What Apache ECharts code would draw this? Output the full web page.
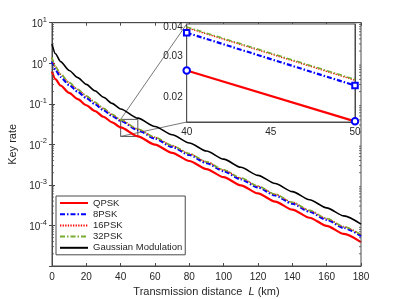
<!DOCTYPE html>
<html><head><meta charset="utf-8">
<script src="https://cdn.jsdelivr.net/npm/echarts@6/dist/echarts.min.js"></script>
<style>html,body{margin:0;padding:0;background:#fff}#c{width:399px;height:299px}</style>
</head><body><div id="c"></div>
<script>
const distance = [0,2,5,10,15,20,25,30,35,40,50,60,70,80,90,100,110,120,130,140,150,160,170,180];
const qpsk = [0.619,0.405,0.283,0.185,0.130,0.0922,0.0665,0.0479,0.0350,0.0261,0.0158,0.00984,0.00617,0.00389,0.00246,0.00155,0.000977,0.000617,0.000389,0.000246,0.000155,0.0000977,0.0000617,0.0000389];
const psk8 = [1.109,0.684,0.460,0.291,0.199,0.139,0.0985,0.0698,0.0503,0.0379,0.0225,0.01385,0.00867,0.00547,0.00345,0.00218,0.00137,0.000867,0.000547,0.000345,0.000218,0.000137,0.0000867,0.0000547];
const psk16 = [1.366,0.815,0.535,0.332,0.225,0.155,0.109,0.0763,0.0545,0.0398,0.0237,0.01483,0.00928,0.00586,0.00370,0.00233,0.00147,0.000928,0.000586,0.000370,0.000233,0.000147,0.0000928,0.0000586];
const psk32 = [1.380,0.824,0.541,0.335,0.227,0.157,0.110,0.0771,0.0551,0.0401,0.0239,0.01498,0.00938,0.00592,0.00373,0.00236,0.00149,0.000938,0.000592,0.000373,0.000236,0.000149,0.0000938,0.0000592];
const gaussian = [2.985,1.712,1.094,0.663,0.442,0.301,0.209,0.145,0.1025,0.0746,0.0444,0.0275,0.01718,0.01084,0.00684,0.00432,0.00272,0.00172,0.00108,0.000684,0.000432,0.000272,0.000172,0.000108];
const seriesNames = ['QPSK','8PSK','16PSK','32PSK','Gaussian Modulation'];
const insetRange = [40, 50];
const insetYMin = 0.0157, insetYMax = 0.0413;
const insetYTicks = [0.02, 0.03, 0.04];

const pair = (arr) => distance.map((d, i) => [d, arr[i]]);
const insetPair = (arr) => distance.map((d, i) => [d, arr[i]]).filter(p => p[0] >= insetRange[0] && p[0] <= insetRange[1]);

const AX = '#4a4a4a', TXT = '#262626', FONT = 'Liberation Sans';
const styles = [
  {color:'#ff0000', width:2.2, type:'solid'},
  {color:'#0000ff', width:2.2, type:[5,2,1.5,2]},
  {color:'#ff0000', width:1.3, type:[1.3,1.3]},
  {color:'#77ac30', width:1.6, type:[5,2,1.5,2]},
  {color:'#000000', width:1.6, type:'solid'}
];
const dataMain = [qpsk, psk8, psk16, psk32, gaussian];

const mainSeries = dataMain.map((arr, i) => ({
  name: seriesNames[i], type: 'line', xAxisIndex: 0, yAxisIndex: 0,
  data: pair(arr), symbol: 'none', smooth: 0.25, smoothMonotone: 'x',
  color: styles[i].color,
  lineStyle: {color: styles[i].color, width: styles[i].width, type: styles[i].type},
  z: 2 + i
}));
mainSeries[0].markArea = {
  silent: true,
  itemStyle: {color: 'rgba(0,0,0,0)', borderColor: '#555', borderWidth: 1},
  data: [[{coord: [insetRange[0], insetYMax]}, {coord: [insetRange[1], insetYMin]}]]
};
const insetSeries = dataMain.map((arr, i) => ({
  name: seriesNames[i] + ' (zoom)', type: 'line', xAxisIndex: 2, yAxisIndex: 2,
  data: insetPair(arr),
  symbol: i === 0 ? 'emptyCircle' : (i === 1 ? 'emptyRect' : 'none'),
  symbolSize: i === 0 ? 6.5 : 5.5,
  itemStyle: {color: '#0000ff', borderColor: '#0000ff', borderWidth: 1.5},
  lineStyle: {color: styles[i].color, width: styles[i].width, type: styles[i].type},
  z: 10 + i
}));

const labelStyle = {fontSize: 10, color: TXT, fontFamily: FONT};
const chart = echarts.init(document.getElementById('c'), null, {renderer: 'canvas'});
chart.setOption({
  animation: false,
  backgroundColor: '#fff',
  textStyle: {fontFamily: FONT},
  grid: [
    {left: 52, top: 22.7, width: 309, height: 243.3, show: true, borderColor: AX, borderWidth: 1, backgroundColor: '#fff', outerBoundsMode: 'none', containLabel: false},
    {left: 186.7, top: 24, width: 168.3, height: 98, show: true, borderColor: AX, borderWidth: 1, backgroundColor: '#fff', z: 5, outerBoundsMode: 'none', containLabel: false}
  ],
  legend: {
    data: seriesNames, orient: 'vertical', left: 56, top: 196,
    itemWidth: 28, itemHeight: 8, itemGap: 1.2, itemTextGap: 2,
    padding: [2, 3, 2, 3],
    itemStyle: {opacity: 0},
    backgroundColor: '#fff', borderColor: AX, borderWidth: 1, borderRadius: 0,
    textStyle: {fontSize: 9.5, color: TXT, fontFamily: FONT},
    selectedMode: false
  },
  xAxis: [
    {gridIndex: 0, type: 'value', min: 0, max: 180, interval: 20, position: 'bottom',
     axisLine: {lineStyle: {color: AX}}, axisTick: {inside: true, length: 3, lineStyle: {color: AX}},
     axisLabel: Object.assign({margin: 6}, labelStyle), splitLine: {show: false},
     name: 'Transmission distance  {i|L} (km)', nameLocation: 'middle', nameGap: 20,
     nameTextStyle: {fontSize: 11, color: TXT, fontFamily: FONT, rich: {i: {fontStyle: 'italic', fontSize: 11, color: TXT, fontFamily: FONT}}}},
    {gridIndex: 0, type: 'value', min: 0, max: 180, interval: 20, position: 'top',
     axisLine: {lineStyle: {color: AX}}, axisTick: {inside: true, length: 3, lineStyle: {color: AX}},
     axisLabel: {show: false}, splitLine: {show: false}},
    {gridIndex: 1, type: 'value', min: 40, max: 50, interval: 5, position: 'bottom',
     axisLine: {lineStyle: {color: AX}}, axisTick: {inside: true, length: 3, lineStyle: {color: AX}},
     axisLabel: Object.assign({margin: 5}, labelStyle), splitLine: {show: false}},
    {gridIndex: 1, type: 'value', min: 40, max: 50, interval: 5, position: 'top',
     axisLine: {lineStyle: {color: AX}}, axisTick: {inside: true, length: 3, lineStyle: {color: AX}},
     axisLabel: {show: false}, splitLine: {show: false}}
  ],
  yAxis: [
    {gridIndex: 0, type: 'log', logBase: 10, min: 1e-5, max: 10, position: 'left',
     axisLine: {lineStyle: {color: AX}}, axisTick: {inside: true, length: 3, lineStyle: {color: AX}},
     splitLine: {show: false},
     axisLabel: {margin: 5, color: TXT, fontFamily: FONT,
       formatter: function (v) { const e = Math.round(Math.log10(v)); if (e <= -5) return ''; return '{b|10}{s|' + e + '}'; },
       rich: {b: {fontSize: 10, color: TXT, fontFamily: FONT, lineHeight: 14, padding: [3,0,0,0]},
              s: {fontSize: 7.5, color: TXT, fontFamily: FONT, verticalAlign: 'top', lineHeight: 8}}},
     name: 'Key rate', nameLocation: 'middle', nameGap: 26,
     nameTextStyle: {fontSize: 11, color: TXT, fontFamily: FONT}},
    {gridIndex: 0, type: 'log', logBase: 10, min: 1e-5, max: 10, position: 'right',
     axisLine: {lineStyle: {color: AX}}, axisTick: {inside: true, length: 3, lineStyle: {color: AX}},
     axisLabel: {show: false}, splitLine: {show: false}},
    {gridIndex: 1, type: 'log', logBase: 10, min: insetYMin, max: insetYMax, position: 'left',
     axisLine: {lineStyle: {color: AX}}, axisTick: {inside: true, length: 3, lineStyle: {color: AX}, customValues: insetYTicks},
     axisLabel: Object.assign({margin: 4, customValues: insetYTicks, formatter: (v) => (+v).toFixed(2)}, labelStyle), splitLine: {show: false}},
    {gridIndex: 1, type: 'log', logBase: 10, min: insetYMin, max: insetYMax, position: 'right',
     axisLine: {lineStyle: {color: AX}}, axisTick: {inside: true, length: 3, lineStyle: {color: AX}, customValues: insetYTicks},
     axisLabel: {show: false}, splitLine: {show: false}}
  ],
  series: mainSeries.concat(insetSeries)
});

// decorations: minor log ticks and zoom connector lines, positioned via the axes
const g = [];
const pm = (v) => chart.convertToPixel({xAxisIndex: 0, yAxisIndex: 0}, v);
const pi = (v) => chart.convertToPixel({xAxisIndex: 2, yAxisIndex: 2}, v);
for (let k = -5; k <= 0; k++) {
  for (let m = 2; m <= 9; m++) {
    const v = m * Math.pow(10, k);
    const a = pm([0, v]), b = pm([180, v]);
    g.push({type: 'line', shape: {x1: a[0], y1: a[1], x2: a[0] + 2, y2: a[1]}, style: {stroke: AX, lineWidth: 0.8}, silent: true, z: 50});
    g.push({type: 'line', shape: {x1: b[0], y1: b[1], x2: b[0] - 2, y2: b[1]}, style: {stroke: AX, lineWidth: 0.8}, silent: true, z: 50});
  }
}
const r1 = pm([insetRange[0], insetYMax]), r2 = pm([insetRange[0], insetYMin]);
const i1 = pi([insetRange[0], insetYMax]), i2 = pi([insetRange[0], insetYMin]);
g.push({type: 'line', shape: {x1: r1[0], y1: r1[1], x2: i1[0], y2: i1[1]}, style: {stroke: '#555', lineWidth: 0.8}, silent: true, z: 1});
g.push({type: 'line', shape: {x1: r2[0], y1: r2[1], x2: i2[0], y2: i2[1]}, style: {stroke: '#555', lineWidth: 0.8}, silent: true, z: 1});
chart.setOption({graphic: g});
</script></body></html>
